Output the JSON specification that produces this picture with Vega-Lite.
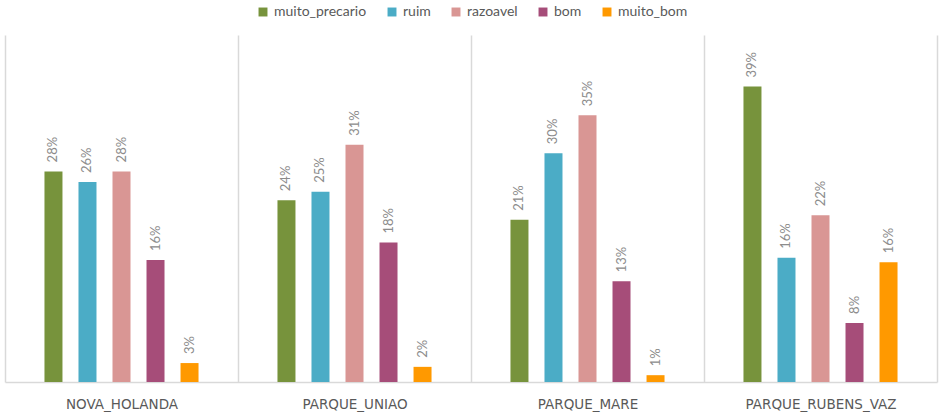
{
  "$schema": "https://vega.github.io/schema/vega-lite/v6.json",
  "width": 932,
  "height": 347,
  "autosize": {"type": "none"},
  "padding": {"left": 5, "top": 35, "right": 6, "bottom": 33},
  "background": "white",
  "config": {"view": {"stroke": null}, "font": "Lato"},
  "data": {
    "values": [
      {"bairro": "NOVA_HOLANDA", "cat": "muito_precario", "v": 0.278},
      {"bairro": "NOVA_HOLANDA", "cat": "ruim", "v": 0.264},
      {"bairro": "NOVA_HOLANDA", "cat": "razoavel", "v": 0.278},
      {"bairro": "NOVA_HOLANDA", "cat": "bom", "v": 0.161},
      {"bairro": "NOVA_HOLANDA", "cat": "muito_bom", "v": 0.025},
      {"bairro": "PARQUE_UNIAO", "cat": "muito_precario", "v": 0.240},
      {"bairro": "PARQUE_UNIAO", "cat": "ruim", "v": 0.251},
      {"bairro": "PARQUE_UNIAO", "cat": "razoavel", "v": 0.313},
      {"bairro": "PARQUE_UNIAO", "cat": "bom", "v": 0.184},
      {"bairro": "PARQUE_UNIAO", "cat": "muito_bom", "v": 0.020},
      {"bairro": "PARQUE_MARE", "cat": "muito_precario", "v": 0.214},
      {"bairro": "PARQUE_MARE", "cat": "ruim", "v": 0.302},
      {"bairro": "PARQUE_MARE", "cat": "razoavel", "v": 0.352},
      {"bairro": "PARQUE_MARE", "cat": "bom", "v": 0.133},
      {"bairro": "PARQUE_MARE", "cat": "muito_bom", "v": 0.009},
      {"bairro": "PARQUE_RUBENS_VAZ", "cat": "muito_precario", "v": 0.390},
      {"bairro": "PARQUE_RUBENS_VAZ", "cat": "ruim", "v": 0.164},
      {"bairro": "PARQUE_RUBENS_VAZ", "cat": "razoavel", "v": 0.220},
      {"bairro": "PARQUE_RUBENS_VAZ", "cat": "bom", "v": 0.078},
      {"bairro": "PARQUE_RUBENS_VAZ", "cat": "muito_bom", "v": 0.158}
    ]
  },
  "encoding": {
    "x": {
      "field": "bairro", "type": "nominal", "sort": null,
      "scale": {"paddingInner": 0, "paddingOuter": 0},
      "axis": {
        "title": null, "labelAngle": 0, "ticks": false, "labelPadding": 15,
        "labelFont": "DejaVu Sans", "labelFontSize": 13.5, "labelColor": "#595959",
        "domainColor": "#d9d9d9", "domainWidth": 1.5,
        "grid": true, "gridColor": "#d9d9d9", "gridWidth": 1.5, "tickBand": "extent"
      }
    },
    "xOffset": {
      "field": "cat", "type": "nominal", "sort": null,
      "scale": {"paddingInner": 0.15, "paddingOuter": 1}
    },
    "y": {
      "field": "v", "type": "quantitative",
      "scale": {"domain": [0, 0.458], "nice": false},
      "axis": null
    }
  },
  "layer": [
    {
      "mark": {"type": "bar", "width": 18},
      "encoding": {
        "color": {
          "field": "cat", "type": "nominal", "sort": null,
          "scale": {
            "domain": ["muito_precario", "ruim", "razoavel", "bom", "muito_bom"],
            "range": ["#77933C", "#4BACC6", "#D99694", "#A64D79", "#FF9900"]
          },
          "legend": {
            "title": null, "orient": "none", "direction": "horizontal",
            "legendX": 251, "legendY": -30,
            "symbolType": "square", "symbolSize": 80, "symbolStrokeWidth": 0,
            "labelFontSize": 14, "labelColor": "#595959", "labelFont": "Lato",
            "columnPadding": 18
          }
        }
      }
    },
    {
      "mark": {"type": "text", "angle": 270, "align": "left", "baseline": "middle", "dx": 9, "fontSize": 13, "color": "#8c8c8c", "font": "Lato"},
      "encoding": {
        "text": {"field": "v", "type": "quantitative", "format": ".0%"}
      }
    }
  ]
}
